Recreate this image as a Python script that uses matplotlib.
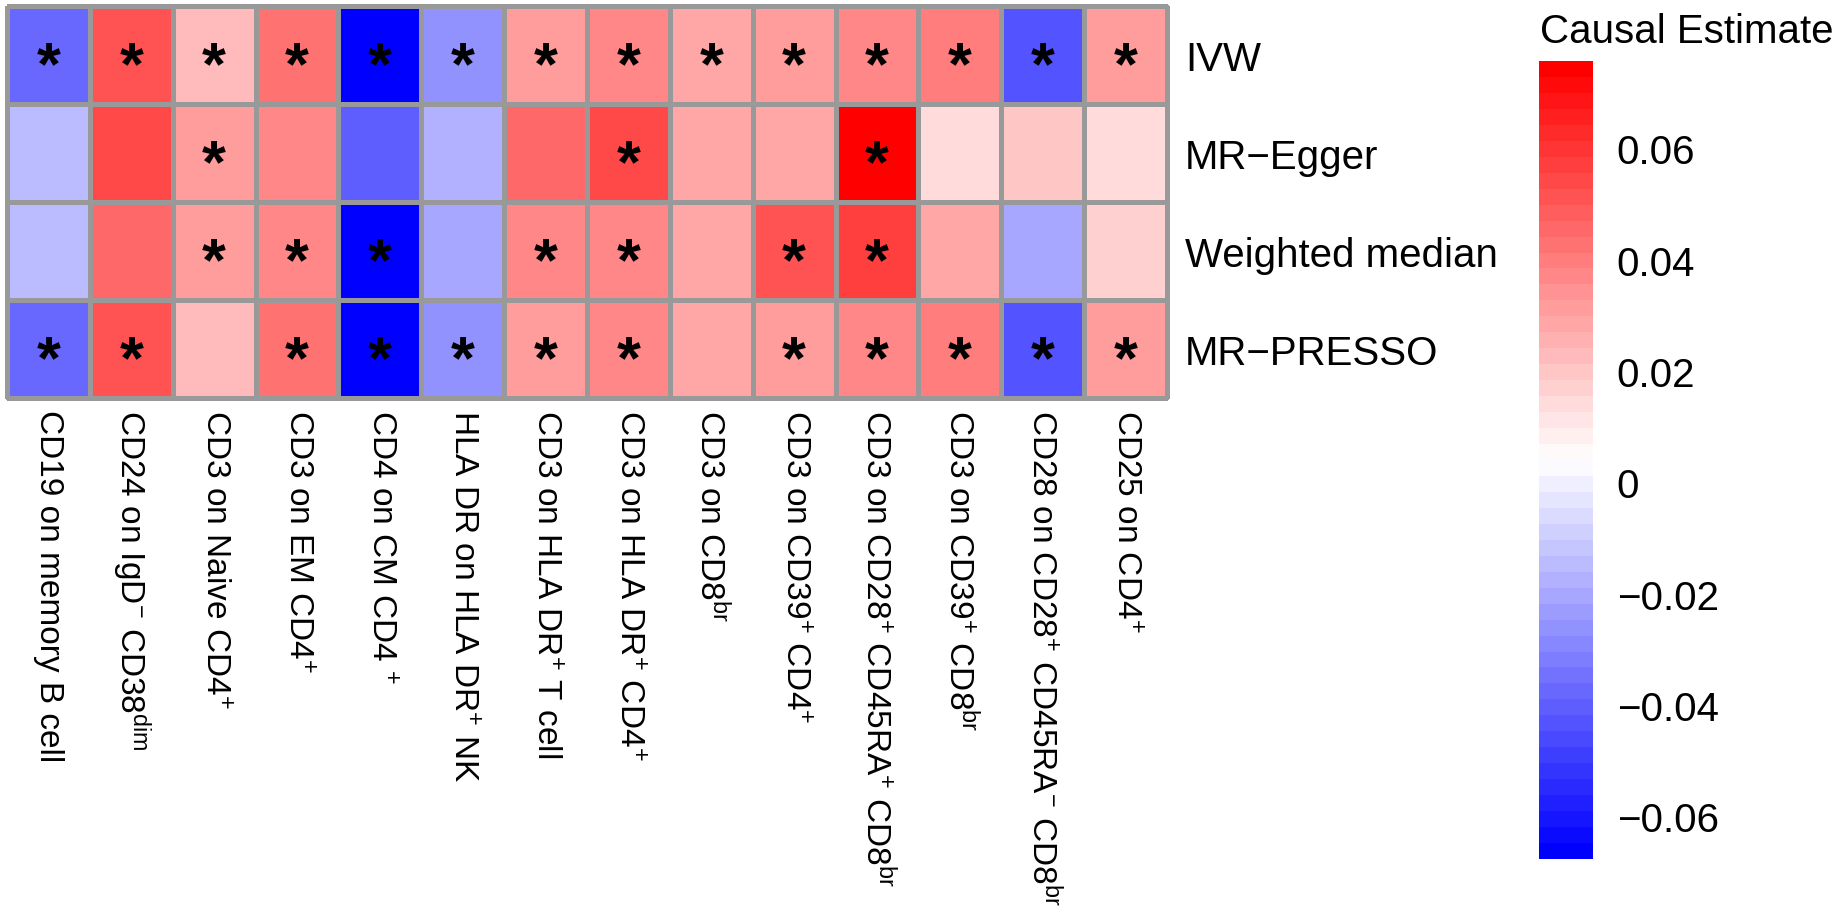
import matplotlib
matplotlib.use("Agg")
import matplotlib.pyplot as plt
import matplotlib as mpl
import numpy as np
from matplotlib.colors import LinearSegmentedColormap, Normalize

plt.rcParams['font.family'] = ['Liberation Sans', 'DejaVu Sans']
plt.rcParams['mathtext.fontset'] = 'custom'
plt.rcParams['mathtext.rm'] = 'Liberation Sans'
plt.rcParams['mathtext.it'] = 'Liberation Sans:italic'
plt.rcParams['mathtext.bf'] = 'Liberation Sans:bold'

# ---------------- data ----------------
methods = ["IVW", "MR\u2212Egger", "Weighted median", "MR\u2212PRESSO"]

exposures = [
    "CD19 on memory B cell",
    r"CD24 on IgD$^{-}$ CD38$^{\mathrm{dim}}$",
    r"CD3 on Naive CD4$^{+}$",
    r"CD3 on EM CD4$^{+}$",
    r"CD4 on CM CD4 $^{+}$",
    r"HLA DR on HLA DR$^{+}$ NK",
    r"CD3 on HLA DR$^{+}$ T cell",
    r"CD3 on HLA DR$^{+}$ CD4$^{+}$",
    r"CD3 on CD8$^{\mathrm{br}}$",
    r"CD3 on CD39$^{+}$ CD4$^{+}$",
    r"CD3 on CD28$^{+}$ CD45RA$^{+}$ CD8$^{\mathrm{br}}$",
    r"CD3 on CD39$^{+}$ CD8$^{\mathrm{br}}$",
    r"CD28 on CD28$^{+}$ CD45RA$^{-}$ CD8$^{\mathrm{br}}$",
    r"CD25 on CD4$^{+}$",
]

ivw     = [-0.037, 0.050, 0.022, 0.044, -0.066, -0.027, 0.032, 0.036, 0.028, 0.030, 0.036, 0.040, -0.043, 0.030]
egger   = [-0.016, 0.055, 0.032, 0.037, -0.041, -0.017, 0.046, 0.053, 0.028, 0.028, 0.075, 0.014, 0.020, 0.014]
wmedian = [-0.016, 0.047, 0.032, 0.037, -0.066, -0.020, 0.036, 0.036, 0.028, 0.050, 0.058, 0.028, -0.021, 0.017]
presso  = [-0.037, 0.050, 0.022, 0.044, -0.066, -0.027, 0.032, 0.036, 0.028, 0.030, 0.036, 0.040, -0.043, 0.030]

ivw_sig     = [1, 1, 1, 1, 1, 1, 1, 1, 1, 1, 1, 1, 1, 1]
egger_sig   = [0, 0, 1, 0, 0, 0, 0, 1, 0, 0, 1, 0, 0, 0]
wmedian_sig = [0, 0, 1, 1, 1, 0, 1, 1, 0, 1, 1, 0, 0, 0]
presso_sig  = [1, 1, 0, 1, 1, 1, 1, 1, 0, 1, 1, 1, 1, 1]

scale_min = -0.0677
scale_max = 0.0757
cbar_ticks = [-0.06, -0.04, -0.02, 0, 0.02, 0.04, 0.06]
cbar_labels = ["\u22120.06", "\u22120.04", "\u22120.02", "0", "0.02", "0.04", "0.06"]
legend_title = "Causal Estimate"

# ---------------- figure ----------------
W, H = 1848, 920
fig = plt.figure(figsize=(W / 100, H / 100), dpi=100)

values = np.array([ivw, egger, wmedian, presso])
sig = np.array([ivw_sig, egger_sig, wmedian_sig, presso_sig])
nrow, ncol = values.shape

cmap = LinearSegmentedColormap.from_list("bwr50", ["#0000FF", "#FFFFFF", "#FF0000"], N=50)
norm = Normalize(vmin=scale_min, vmax=scale_max)

ax_l, ax_r, ax_t, ax_b = 7, 1167, 7, 399
ax = fig.add_axes([ax_l / W, 1 - ax_b / H, (ax_r - ax_l) / W, (ax_b - ax_t) / H])

mesh = ax.pcolormesh(np.arange(ncol + 1), np.arange(nrow + 1), values, cmap=cmap, norm=norm,
                     edgecolors="#999999", linewidth=2.2)
mesh.set_clip_on(False)
ax.set_xlim(0, ncol)
ax.set_ylim(nrow, 0)
for s in ax.spines.values():
    s.set_visible(False)

star_size = 44
for i in range(nrow):
    for j in range(ncol):
        if sig[i, j]:
            ax.annotate("*", xy=(j + 0.5, i + 0.5), xytext=(0, -20), textcoords="offset points",
                        ha="center", va="baseline", fontsize=star_size, fontweight="bold", color="black")

ax.set_xticks(np.arange(ncol) + 0.5)
ax.set_xticklabels(exposures, rotation=-90, fontsize=24)
ax.set_yticks(np.arange(nrow) + 0.5)
ax.set_yticklabels(methods, fontsize=29)
ax.yaxis.tick_right()
ax.tick_params(axis="x", length=0, pad=8)
ax.tick_params(axis="y", length=0, pad=13)

# colorbar
cb_l, cb_r, cb_t, cb_b = 1539, 1593, 62, 860
cax = fig.add_axes([cb_l / W, 1 - cb_b / H, (cb_r - cb_l) / W, (cb_b - cb_t) / H])
cb = mpl.colorbar.ColorbarBase(cax, cmap=cmap, norm=norm, orientation="vertical")
cb.outline.set_visible(False)
cb.set_ticks(cbar_ticks)
cb.set_ticklabels(cbar_labels)
cax.tick_params(length=0, pad=17, labelsize=29)

fig.text(1540 / W, 1 - 43 / H, legend_title, ha="left", va="baseline", fontsize=29)

fig.savefig("out.png", dpi=100)
